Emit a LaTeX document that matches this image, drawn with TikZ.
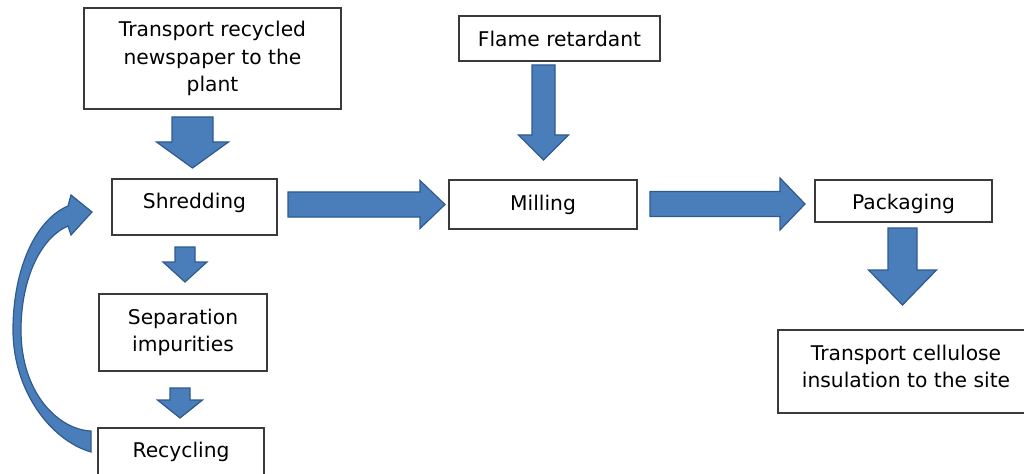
\documentclass[tikz,border=0pt]{standalone}
\usepackage{fontspec}
\setmainfont{DejaVu Sans}
\definecolor{blkfill}{HTML}{4A7EBB}
\definecolor{blkdraw}{HTML}{2F5A8E}
\definecolor{boxline}{HTML}{3A3A3A}
\newcommand{\vblk}[6]{%
  \draw[blk] ({#1-#3},#2) -- ({#1+#3},#2) -- ({#1+#3},#4) -- ({#1+#5},#4) -- (#1,#6) -- ({#1-#5},#4) -- ({#1-#3},#4) -- cycle;}
\newcommand{\hblk}[6]{%
  \draw[blk] (#1,{#2-#3}) -- (#1,{#2+#3}) -- (#4,{#2+#3}) -- (#4,{#2+#5}) -- (#6,#2) -- (#4,{#2-#5}) -- (#4,{#2-#3}) -- cycle;}
\begin{document}
\begin{tikzpicture}[x=0.75pt,y=-0.75pt,
  box/.style={draw=boxline,line width=0.8pt,fill=white,inner sep=0pt,align=center,font=\fontsize{15.2}{20.6}\selectfont},
  txt/.style={inner sep=0pt,align=center,font=\fontsize{15.2}{20.6}\selectfont},
  blk/.style={fill=blkfill,draw=blkdraw,line width=0.9pt,line join=miter}]
\useasboundingbox (0,0) rectangle (1024,474);
\clip (0,0) rectangle (1024,474);
\fill[white] (0,0) rectangle (1024,474);
% boxes
\node[box,minimum width={257*0.75pt},minimum height={101*0.75pt}] (trans) at (212.5,58.5) {Transport recycled\\newspaper to the\\plant};
\node[box,minimum width={201*0.75pt},minimum height={45*0.75pt}] (flame) at (559.5,38.5) {Flame retardant};
\node[box,minimum width={165*0.75pt},minimum height={56*0.75pt}] (shred) at (194.5,207) {};
\node[txt] (shredt) at (194.5,203) {Shredding};
\node[box,minimum width={188*0.75pt},minimum height={49*0.75pt}] (mill) at (543,204.5) {};
\node[txt] (millt) at (543,204.5) {Milling};
\node[box,minimum width={177*0.75pt},minimum height={42*0.75pt}] (pack) at (903.5,201) {};
\node[txt] (packt) at (903.5,204) {Packaging};
\node[box,minimum width={168*0.75pt},minimum height={77*0.75pt}] (sep) at (183,332.5) {Separation\\impurities};
\node[box,minimum width={166*0.75pt},minimum height={70*0.75pt}] (rec) at (181,463) {};
\node[txt] (rect) at (181,452) {Recycling};
\node[box,minimum width={256*0.75pt},minimum height={83*0.75pt}] (site) at (906,371.5) {};
\node[txt] (sitet) at (906,366.5) {Transport cellulose\\insulation to the site};
% block arrows
\vblk{192.5}{117}{20.5}{142}{36}{168}
\hblk{288}{204.5}{12.5}{420}{24}{445}
\vblk{543.5}{65}{11.5}{135}{25}{160}
\hblk{650}{204}{12.5}{780}{26}{805}
\vblk{902.5}{228}{14.5}{270}{34}{305}
\vblk{185}{247}{10}{262}{22}{282}
\vblk{180}{388}{10}{400}{22.5}{418}
% curved return arrow (Recycling back to Shredding)
\draw[blk] (91,452) .. controls (50,440) and (13,390) .. (13,330)
  .. controls (13,270) and (35,220) .. (68,206)
  -- (71,195) -- (92,212) -- (71,235) -- (68,226)
  .. controls (40,238) and (21,280) .. (21,330)
  .. controls (21,395) and (60,430) .. (91,431) -- cycle;
\end{tikzpicture}
\end{document}
